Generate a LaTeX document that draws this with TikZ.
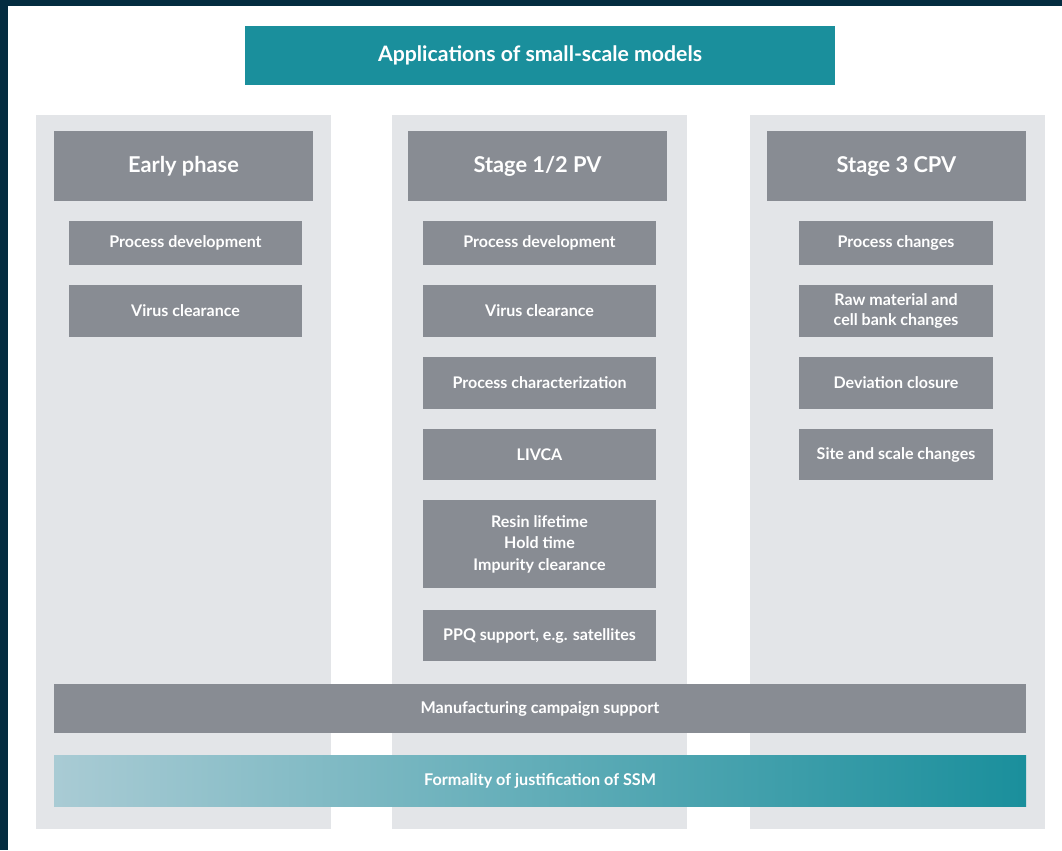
\documentclass[tikz,border=0pt]{standalone}
\usepackage{fontspec}
\setmainfont{Lato}
\usetikzlibrary{shadings}

\definecolor{frame}{HTML}{042C40}
\definecolor{teal}{HTML}{1A8F9C}
\definecolor{tealpale}{HTML}{A9CBD4}
\definecolor{boxgray}{HTML}{888C93}
\definecolor{panelgray}{HTML}{E3E5E8}

\tikzset{
  panel/.style={fill=panelgray,draw=none,minimum width=295*0.025cm,minimum height=714*0.025cm,inner sep=0pt},
  headbox/.style={fill=boxgray,text=white,font=\fontsize{15.5}{18}\selectfont\bfseries,minimum width=259*0.025cm,minimum height=70*0.025cm,inner sep=0pt},
  itembox/.style={fill=boxgray,text=white,font=\fontsize{11.4}{15.2}\selectfont\bfseries,align=center,inner sep=0pt},
  bar/.style={text=white,font=\fontsize{11.5}{13}\selectfont\bfseries,minimum width=972*0.025cm,inner sep=0pt}
}

\begin{document}
\begin{tikzpicture}[x=0.025cm,y=-0.025cm]
\useasboundingbox (0,0) rectangle (1062,850);
%Frame
\fill[frame] (0,0) rectangle (1062,850);
\fill[white] (8,6) rectangle (1062,850);

%Columns
\path
 (183.5,472) node[panel] (pan1) {}
 (539.5,472) node[panel] (pan2) {}
 (897.5,472) node[panel] (pan3) {}
 ;

%Title
\path (540,55.5) node[fill=teal,text=white,font=\fontsize{15.1}{17}\selectfont\bfseries,minimum width=590*0.025cm,minimum height=59*0.025cm,inner sep=0pt] (title) {Applications of small-scale models};

%Headers
\path
 (183.5,166) node[headbox] (early) {Early phase}
 (537.5,166) node[headbox] (pv) {Stage 1/2 PV}
 (896.5,166) node[headbox] (cpv) {Stage 3 CPV}
 ;

%Early phase items
\path
 (185.5,243) node[itembox,minimum width=233*0.025cm,minimum height=44*0.025cm] (e1) {Process development}
 (185.5,311) node[itembox,minimum width=233*0.025cm,minimum height=52*0.025cm] (e2) {Virus clearance}
 ;

%Stage 1/2 items
\path
 (539.5,243) node[itembox,minimum width=233*0.025cm,minimum height=44*0.025cm] (v1) {Process development}
 (539.5,311) node[itembox,minimum width=233*0.025cm,minimum height=52*0.025cm] (v2) {Virus clearance}
 (539.5,383) node[itembox,minimum width=233*0.025cm,minimum height=52*0.025cm] (v3) {Process characterization}
 (539.5,454.5) node[itembox,minimum width=233*0.025cm,minimum height=51*0.025cm] (v4) {LIVCA}
 (539.5,544) node[itembox,minimum width=233*0.025cm,minimum height=88*0.025cm] (v5) {Resin lifetime\\Hold time\\Impurity clearance}
 (539.5,635.5) node[itembox,minimum width=233*0.025cm,minimum height=51*0.025cm] (v6) {PPQ support, e.g. satellites}
 ;

%Stage 3 items
\path
 (896,243) node[itembox,minimum width=194*0.025cm,minimum height=44*0.025cm] (c1) {Process changes}
 (896,311) node[itembox,minimum width=194*0.025cm,minimum height=52*0.025cm,font=\fontsize{11.4}{14.2}\selectfont\bfseries] (c2) {Raw material and\\cell bank changes}
 (896,383) node[itembox,minimum width=194*0.025cm,minimum height=52*0.025cm] (c3) {Deviation closure}
 (896,454.5) node[itembox,minimum width=194*0.025cm,minimum height=51*0.025cm] (c4) {Site and scale changes}
 ;

%Bars across all columns
\path
 (540,708.5) node[bar,fill=boxgray,minimum height=49*0.025cm] (manu) {Manufacturing campaign support}
 (540,780.5) node[bar,left color=tealpale,right color=teal,minimum height=51*0.025cm] (ssm) {Formality of justification of SSM}
 ;
\end{tikzpicture}
\end{document}
